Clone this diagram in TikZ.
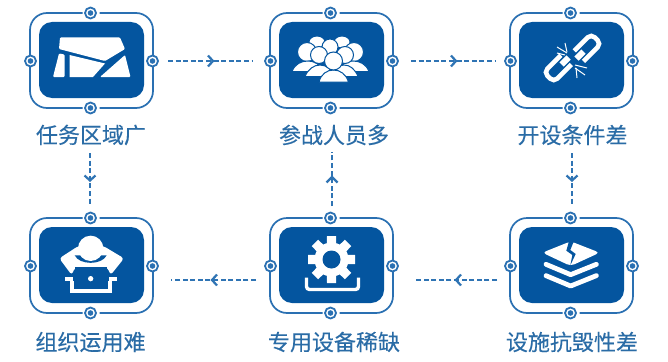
\documentclass[tikz,border=0pt]{standalone}
\usepackage{fontspec}
\newfontfamily\cjk[FakeBold=0.25]{Noto Sans CJK SC}
\usetikzlibrary{calc}
\definecolor{pan}{HTML}{04559F}
\definecolor{frm}{HTML}{2A70B2}
\definecolor{lbl}{HTML}{2A6CA6}
\definecolor{cnt}{HTML}{2F74B4}
\tikzset{
 panel/.style={fill=pan,rounded corners=13pt,minimum width=105pt,minimum height=76pt,inner sep=0pt,draw=none},
 framebox/.style={draw=frm,line width=1.7pt,rounded corners=17pt,fill=none},
 lab/.style={font=\cjk\fontsize{22pt}{24pt}\selectfont,text=lbl,inner sep=0pt},
 conn/.style={draw=cnt,line width=1.1pt,dash pattern=on 5pt off 2.6pt},
 chev/.style={draw=cnt,line width=2.2pt,line join=miter},
 ico/.style={fill=white,draw=none},
 cut/.style={fill=pan,draw=none},
 ring/.style={circle,draw=frm,line width=1.8pt,fill=white,minimum size=11pt,inner sep=0pt},
 dot/.style={circle,fill=frm,minimum size=5.6pt,inner sep=0pt},
 head/.style={fill=white,draw=pan,line width=1pt},
}
\newcommand{\unit}[3]{% name, cx, cy
 \node[panel] (#1) at (#2,#3) {};
 \draw[framebox] ($(#2,#3)+(-9,-47)$) -- ($(#2,#3)+(-61.5,-47)$) -- ($(#2,#3)+(-61.5,48)$) -- ($(#2,#3)+(-9,48)$);
 \draw[framebox] ($(#2,#3)+(8,-47)$) -- ($(#2,#3)+(61.5,-47)$) -- ($(#2,#3)+(61.5,48)$) -- ($(#2,#3)+(8,48)$);
 \node[ring] (#1t) at ($(#2,#3)+(-1,-47)$) {}; \node[dot] at (#1t) {};
 \node[ring] (#1b) at ($(#2,#3)+(-1,48)$) {}; \node[dot] at (#1b) {};
 \node[ring] (#1l) at ($(#2,#3)+(-61,1)$) {}; \node[dot] at (#1l) {};
 \node[ring] (#1r) at ($(#2,#3)+(61,1)$) {}; \node[dot] at (#1r) {};
}
\begin{document}
\begin{tikzpicture}[x=1pt,y=-1pt]
\useasboundingbox (0,0) rectangle (668,361);
\fill[white] (0,0) rectangle (668,361);
\unit{a}{91.5}{60}
\unit{b}{331.5}{60}
\unit{c}{571.5}{60}
\unit{f}{91.5}{265}
\unit{e}{331.5}{265}
\unit{d}{571.5}{265}
\node[lab] (la) at (91,135) {任务区域广};
\node[lab] (lb) at (334,135) {参战人员多};
\node[lab] (lc) at (572.5,135) {开设条件差};
\node[lab] (lf) at (90.5,342) {组织运用难};
\node[lab] (le) at (334,342) {专用设备稀缺};
\node[lab] (ld) at (572,342) {设施抗毁性差};
% connectors
\coordinate (a1) at (168,61); \coordinate (b1) at (253,61);
\coordinate (b2) at (411,61); \coordinate (c1) at (495,61);
\coordinate (c2) at (572,153); \coordinate (d1) at (572,206);
\coordinate (d2) at (497,280); \coordinate (e1) at (415,280);
\coordinate (e2) at (256,280); \coordinate (f1) at (171,280);
\coordinate (e3) at (332,206); \coordinate (b3) at (332,152);
\coordinate (a3) at (90,153); \coordinate (f3) at (90,206);
\foreach \p/\q in {a1/b1,b2/c1,c2/d1,d2/e1,e2/f1,e3/b3,a3/f3}{\draw[conn] (\p) -- (\q);}
\foreach \x in {213,456}{\draw[chev] (\x-5,55.5) -- (\x,61) -- (\x-5,66.5);}
\foreach \x in {212,456}{\draw[chev] (\x+5,274.5) -- (\x,280) -- (\x+5,285.5);}
\foreach \x in {90,572}{\draw[chev] (\x-5.5,175.5) -- (\x,180.5) -- (\x+5.5,175.5);}
\draw[chev] (326.5,182.5) -- (332,177) -- (337.5,182.5);
% icon 1: map
\begin{scope}[shift={(10,0)}]
\fill[ico,rounded corners=1pt] (50,37.5) -- (110,37.5) -- (115,49) -- (95,61) -- (49,49) -- cycle;
\fill[ico,rounded corners=1pt] (49,53.5) -- (54.5,54.5) -- (54.5,77) -- (43,77) -- cycle;
\fill[ico] (59.5,55) -- (95,63.5) -- (83,77) -- (59.5,77) -- cycle;
\fill[ico,rounded corners=1pt] (115,55) -- (120.5,77) -- (90,77) -- cycle;
\end{scope}
% icon 2: people
\begin{scope}[shift={(250,0)}]
\path[head] (67,42) ellipse (8pt and 6pt);
\path[head] (92,42) ellipse (8pt and 6pt);
\path[head] (80,47) circle (8);
\path[head] (57,52) circle (9.5);
\path[head] (104,52) circle (9.5);
\path[head] (42,71.5) .. controls (45,64) and (51,61) .. (58,61) .. controls (64,61) and (70,64) .. (73,71.5) -- cycle;
\path[head] (119,71.5) .. controls (116,64) and (110,61) .. (103,61) .. controls (97,61) and (91,64) .. (88,71.5) -- cycle;
\path[head] (69,55) circle (8.5);
\path[head] (95,55) circle (8.5);
\path[head] (55,76.5) .. controls (58,69) and (64,65) .. (70,65) .. controls (76,65) and (82,69) .. (84,76.5) -- cycle;
\path[head] (108,76.5) .. controls (105,69) and (100,65) .. (94,65) .. controls (88,65) and (82,69) .. (80,76.5) -- cycle;
\path[head] (69,82) .. controls (71,74) and (77,70) .. (83.5,70) .. controls (90,70) and (96,74) .. (98.5,82) -- cycle;
\path[head] (83.5,61) circle (9);
\end{scope}
% icon 3: broken chain
\begin{scope}[shift={(490,0)}]
\begin{scope}[shift={(97,48)},rotate=45]
\draw[white,line width=4.6pt,rounded corners=5pt] (-11,-7) -- (13,-7) -- (13,7) -- (-12,7);
\fill[white] (-15,-3) -- (-5,-3) -- (-5,3) -- (-15,3) -- cycle;
\end{scope}
\begin{scope}[shift={(68,68)},rotate=45]
\draw[white,line width=4.6pt,rounded corners=5pt] (11,-7) -- (-13,-7) -- (-13,7) -- (12,7);
\fill[white] (15,-3) -- (5,-3) -- (5,3) -- (15,3) -- cycle;
\end{scope}
\foreach \a/\b/\c/\d in {75/43/77/52, 67/47/77/53, 67/53/75/55, 85/65/97/68, 85/68/95/75, 86/68/87/78}{\draw[white,line width=1pt] (\a,\b) -- (\c,\d);}
\end{scope}
% icon 4: person with laptop
\begin{scope}[shift={(50,230)},scale=1/3]
\fill[ico,rounded corners=3pt] (85,48) -- (28,85) -- (65,135) -- (75,112) -- (172,112) -- (182,135) -- (222,85) -- (160,48) -- cycle;
\fill[cut] (74,76) .. controls (88,106) and (156,106) .. (170,76) -- cycle;
\fill[ico] (122,55) circle (38);
\fill[cut] (75,112) rectangle (172,172);
\fill[ico] (122,146) circle (8);
\fill[ico] (45,142) rectangle (68,152);
\fill[ico] (178,142) rectangle (202,152);
\fill[ico] (60,152) rectangle (72,188);
\fill[ico] (175,152) rectangle (187,188);
\fill[ico] (60,176) rectangle (187,188);
\end{scope}
% icon 5: gear
\begin{scope}[shift={(250,200)}]
\fill[ico] (81.5,59.5) circle (17);
\foreach \t in {0,45,...,315}{
 \fill[ico,rotate around={\t:(81.5,59.5)}] (76.5,59.5) -- (77,36) -- (86,36) -- (86.5,59.5) -- cycle;
}
\fill[cut] (81.5,59.5) circle (9);
\draw[white,line width=3.4pt,rounded corners=3pt] (56.5,77.5) -- (56.5,89.5) -- (108.5,89.5) -- (108.5,77.5);
\end{scope}
% icon 6: layers
\begin{scope}[shift={(535,230)},scale=1/3]
\fill[ico,rounded corners=4pt] (22,68) -- (107,34) -- (194,68) -- (107,108) -- cycle;
\fill[cut] (103,30) -- (118,30) -- (106,60) -- (122,72) -- (106,106) -- (112,75) -- (94,62) -- cycle;
\draw[white,line width=4.8pt,line cap=round,line join=round] (33,103) -- (107,134) -- (184,103);
\draw[white,line width=4.8pt,line cap=round,line join=round] (33,137) -- (107,168) -- (184,137);
\end{scope}
\end{tikzpicture}
\end{document}
